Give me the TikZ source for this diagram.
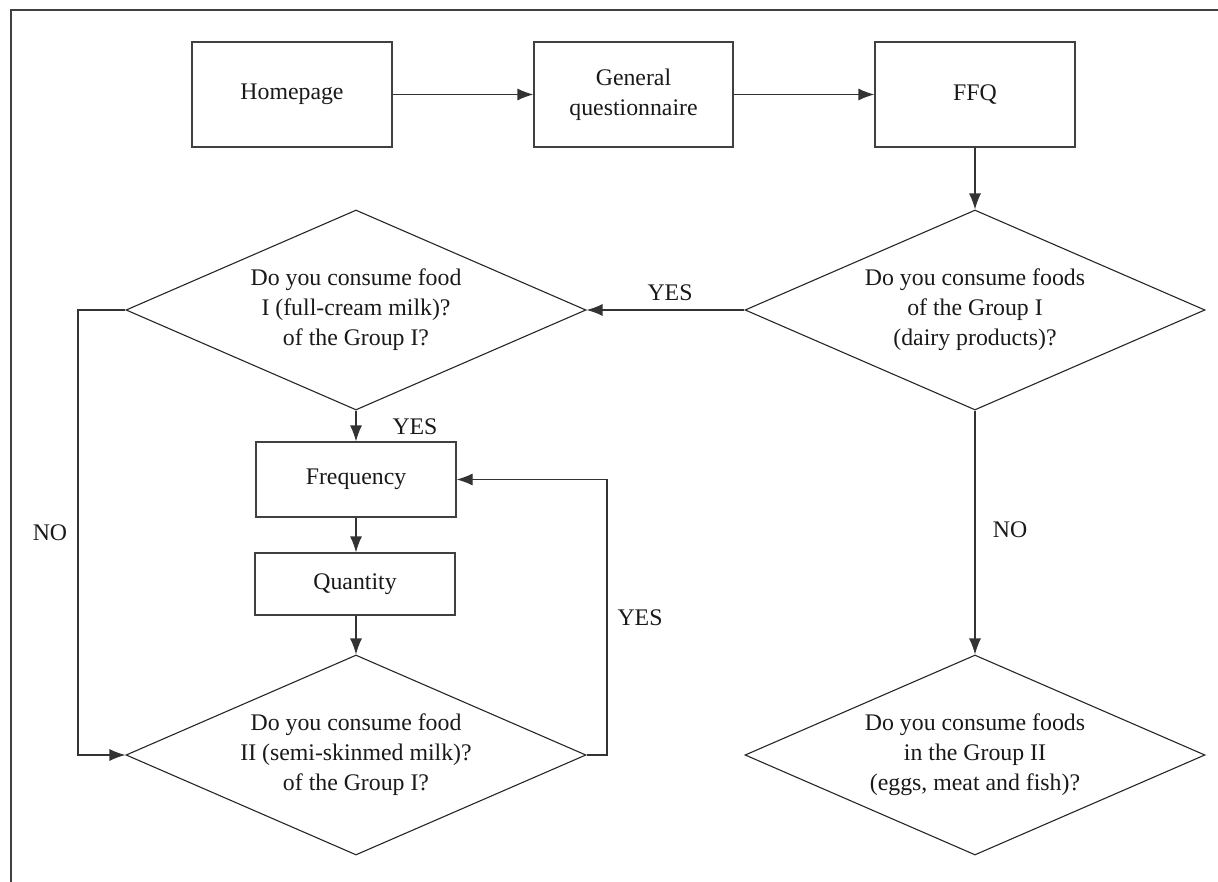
\documentclass[tikz,border=0pt]{standalone}
\usepackage{fontspec}
\setmainfont{Liberation Serif}
\usetikzlibrary{shapes.geometric,arrows.meta}
\begin{document}
\begin{tikzpicture}[x=1pt,y=-1pt,
  every node/.style={font=\fontsize{23.8}{30}\selectfont, text=black!90},
  box/.style={draw=black!75, line width=1.2pt, align=center, inner sep=0pt},
  dec/.style={draw=black!85, line width=1.1pt, shape=diamond, aspect=2.3, align=center, inner sep=0pt, minimum width=460pt, minimum height=200pt},
  arr/.style={draw=black!80, line width=1.2pt, -{Latex[length=16pt,width=12pt]}},
  lbl/.style={inner sep=0pt}]
\useasboundingbox (0,0) rectangle (1218,882);
\draw[draw=black!75, line width=1.5pt] (11,882) -- (11,10) -- (1218,10);

\node[box, minimum width=200pt, minimum height=105pt] (home) at (292,94.5) {Homepage};
\node[box, minimum width=199pt, minimum height=105pt] (gq) at (633.5,94.5) {General\\questionnaire};
\node[box, minimum width=200pt, minimum height=105pt] (ffq) at (975,94.5) {FFQ};

\node[dec] (d1) at (975,310) {Do you consume foods\\of the Group I\\(dairy products)?};
\node[dec] (d2) at (356,310) {Do you consume food\\I (full-cream milk)?\\of the Group I?};
\node[box, minimum width=200pt, minimum height=75pt] (freq) at (356,479.5) {Frequency};
\node[box, minimum width=200pt, minimum height=62pt] (quant) at (355,584) {Quantity};
\node[dec] (d3) at (356,755) {Do you consume food\\II (semi-skinmed milk)?\\of the Group I?};
\node[dec] (d4) at (975,755) {Do you consume foods\\in the Group II\\(eggs, meat and fish)?};

\coordinate (nol) at (78,310);
\coordinate (yesr) at (607,755);

\draw[arr] (home.east) -- (gq.west);
\draw[arr] (gq.east) -- (ffq.west);
\draw[arr] (ffq.south) -- (d1.north);
\draw[arr] (d1.west) -- (d2.east);
\draw[arr] (d2.south) -- (freq.north);
\draw[arr] (freq.south) -- (freq.south |- quant.north);
\draw[arr] (quant.south -| d3.north) -- (d3.north);
\draw[arr] (d2.west) -- (nol) |- (d3.west);
\draw[arr] (d3.east) -- (yesr) |- (freq.east);
\draw[arr] (d1.south) -- (d4.north);

\node[lbl] (yes1) at (670,293) {YES};
\node[lbl] (yes2) at (415,427) {YES};
\node[lbl] (yes3) at (640,618) {YES};
\node[lbl] (no1) at (50,533) {NO};
\node[lbl] (no2) at (1010,530) {NO};
\end{tikzpicture}
\end{document}
